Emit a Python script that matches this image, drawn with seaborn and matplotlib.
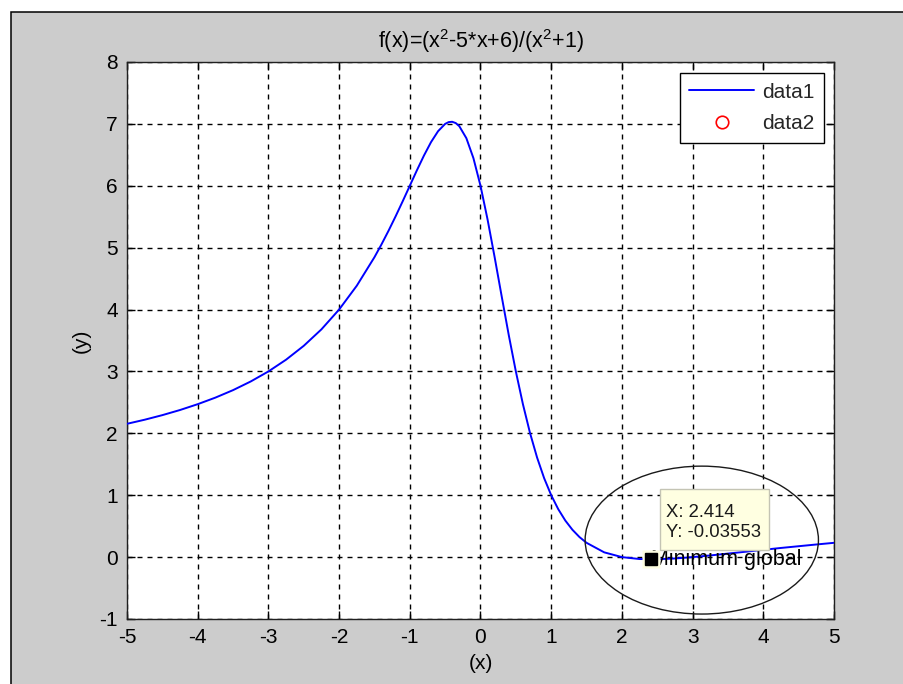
import matplotlib
matplotlib.use("Agg")
import matplotlib.pyplot as plt
import matplotlib.transforms as mtransforms
import seaborn as sns
import pandas as pd
from matplotlib.patches import Rectangle, Ellipse

# Sampled curve f(x) = (x^2 - 5x + 6) / (x^2 + 1)
x_vals = [-5.0, -4.75, -4.5, -4.25, -4.0, -3.75, -3.5, -3.25, -3.0, -2.75,
          -2.5, -2.25, -2.0, -1.75, -1.5, -1.4, -1.3, -1.2, -1.1, -1.0,
          -0.9, -0.8, -0.7, -0.6, -0.5, -0.45, -0.4, -0.35, -0.3, -0.2,
          -0.1, 0.0, 0.1, 0.2, 0.3, 0.4, 0.5, 0.6, 0.7, 0.8,
          0.9, 1.0, 1.1, 1.2, 1.3, 1.4, 1.5, 1.75, 2.0, 2.25,
          2.5, 2.75, 3.0, 3.25, 3.5, 3.75, 4.0, 4.25, 4.5, 4.75, 5.0]
y_vals = [2.154, 2.220, 2.294, 2.377, 2.471, 2.577, 2.698, 2.838, 3.000, 3.190,
          3.414, 3.680, 4.000, 4.385, 4.846, 5.054, 5.275, 5.508, 5.751, 6.000,
          6.249, 6.488, 6.705, 6.882, 7.000, 7.029, 7.034, 7.013, 6.963, 6.769,
          6.446, 6.000, 5.455, 4.846, 4.211, 3.586, 3.000, 2.471, 2.007, 1.610,
          1.276, 1.000, 0.774, 0.590, 0.442, 0.324, 0.231, 0.077, 0.000, -0.031,
          -0.034, -0.022, 0.000, 0.027, 0.057, 0.087, 0.118, 0.148, 0.176, 0.204, 0.231]

# Global minimum marked on the curve
min_x = 2.414
min_y = -0.03553

x_ticks = list(range(-5, 6))
y_ticks = list(range(-1, 9))
title_text = "f(x)=(x$^2$-5*x+6)/(x$^2$+1)"
x_label = "(x)"
y_label = "(y)"
note_text = "Minimum global"
ring_center = (3.13, 0.275)
ring_width, ring_height = 3.30, 2.39

sns.set_theme(style="white")
plt.rcParams["font.family"] = ["Liberation Sans", "DejaVu Sans"]
plt.rcParams["mathtext.fontset"] = "custom"
plt.rcParams["mathtext.rm"] = "Liberation Sans"
plt.rcParams["mathtext.default"] = "regular"
plt.rcParams["axes.unicode_minus"] = False

W, H = 904, 684
fig = plt.figure(figsize=(W / 100, H / 100), dpi=100, facecolor="white")
# grey window area with dark border on top/left
fig.patches.append(Rectangle((10.5 / W, -0.05), 1.1, (H - 11.5) / H + 0.05,
                             transform=fig.transFigure, facecolor="#cccccc",
                             edgecolor="black", lw=1.1, zorder=-10))

ax = fig.add_axes([127 / W, 65 / H, 707 / W, 557 / H])
ax.set_facecolor("white")

curve = pd.DataFrame({"x": x_vals, "y": y_vals})
sns.lineplot(data=curve, x="x", y="y", color="blue", lw=1.4, label="data1",
             estimator=None, sort=False, ax=ax, zorder=3)
sns.lineplot(x=[min_x], y=[min_y], marker="o", linestyle="none", ms=9,
             mfc="none", mec="red", mew=1.2, color="red", label="data2",
             estimator=None, ax=ax, zorder=3)

ax.set_xlim(x_ticks[0], x_ticks[-1])
ax.set_ylim(y_ticks[0], y_ticks[-1])
ax.set_xticks(x_ticks)
ax.set_yticks(y_ticks)
ax.grid(True, color="black", lw=1.0, linestyle=(0, (3.6, 3.6)))
ax.set_axisbelow(True)
ax.tick_params(direction="in", length=6, width=1, top=True, right=True,
               bottom=True, left=True, labelsize=15, pad=6.5, colors="black")
for sp in ax.spines.values():
    sp.set_color("#202020")
    sp.set_linewidth(1.0)

ax.set_title(title_text, fontsize=15.5, pad=10, color="black")
ax.set_xlabel(x_label, fontsize=15, labelpad=5, color="black")
ax.set_ylabel(y_label, fontsize=15, labelpad=6, color="black")

# ring around the minimum region
ax.add_patch(Ellipse(ring_center, ring_width, ring_height, fill=False,
                     edgecolor="#1a1a1a", lw=1.0, zorder=4))

# note text and datatip marker
ax.text(min_x, min_y, note_text, ha="left", va="center", fontsize=15.5,
        color="black", zorder=5)
ax.plot(min_x, min_y, marker="s", ms=13, color="#ffffe1", mec="none", zorder=6)
ax.plot(min_x, min_y, marker="s", ms=8.5, color="black", mec="black", zorder=7)

# datatip box, laid out in inches relative to the marked point
tip = fig.dpi_scale_trans + mtransforms.ScaledTranslation(min_x, min_y, ax.transData)
ax.add_patch(Rectangle((0.085, 0.09), 1.09, 0.61, transform=tip,
                       facecolor="#ffffe1", edgecolor="#c4c4b4", lw=1.0,
                       zorder=8, clip_on=False))
ax.text(0.15, 0.47, f"X: {min_x:.4g}", transform=tip, ha="left", va="center",
        fontsize=13.3, color="#1a1a1a", zorder=9)
ax.text(0.15, 0.27, f"Y: {min_y:.4g}", transform=tip, ha="left", va="center",
        fontsize=13.3, color="#1a1a1a", zorder=9)

leg = ax.legend(loc="upper right", bbox_to_anchor=(0.986, 0.980),
                borderaxespad=0, fancybox=False, edgecolor="black",
                framealpha=1, fontsize=15, handlelength=3.1,
                handletextpad=0.4, labelspacing=0.62, borderpad=0.45)
leg.get_frame().set_linewidth(1.0)
leg.set_zorder(10)

fig.savefig("out.png", dpi=100, facecolor=fig.get_facecolor())
